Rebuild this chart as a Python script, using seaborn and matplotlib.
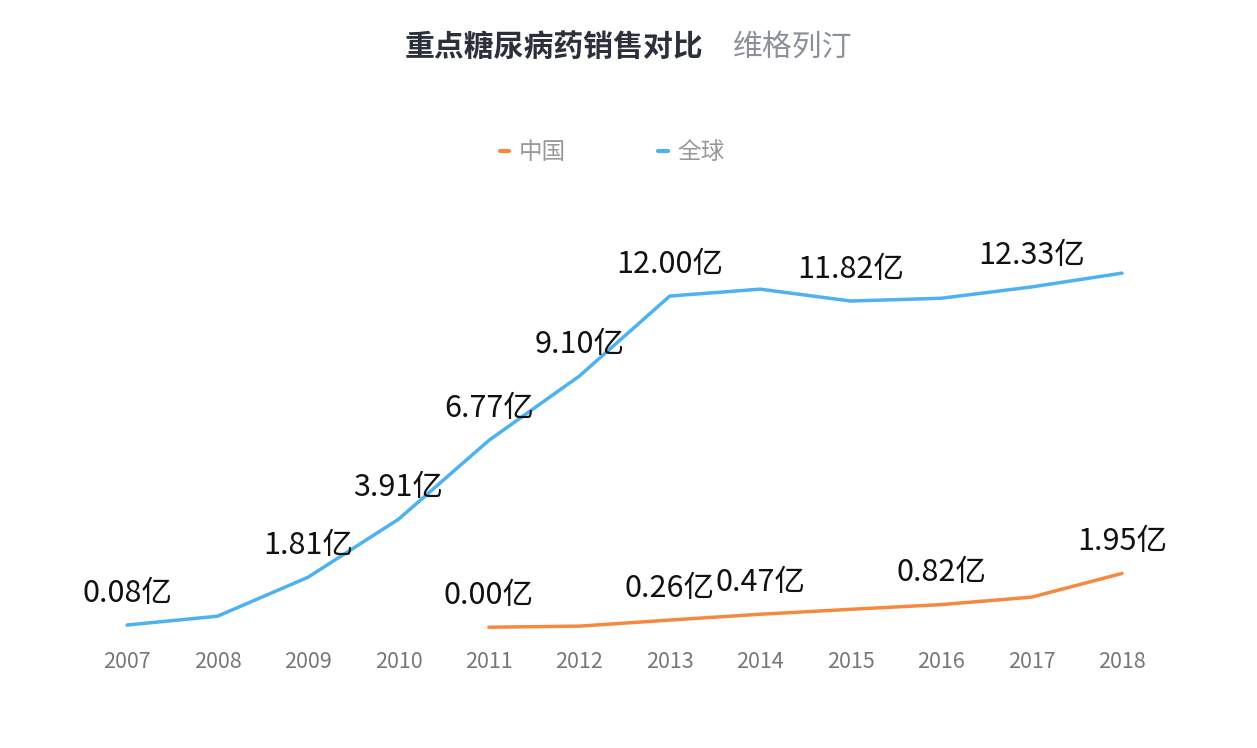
import pandas as pd
import numpy as np
import seaborn as sns
import matplotlib.pyplot as plt
from matplotlib.lines import Line2D

# data
years = [2007, 2008, 2009, 2010, 2011, 2012,
         2013, 2014, 2015, 2016, 2017, 2018]
china = [np.nan, np.nan, np.nan, np.nan, 0.00, 0.04,
         0.26, 0.47, 0.65, 0.82, 1.09, 1.95]
world = [0.08, 0.40, 1.81, 3.91, 6.77, 9.10,
         12.00, 12.25, 11.82, 11.92, 12.33, 12.83]
# which points carry a value label
china_labeled = [2011, 2013, 2014, 2016, 2018]
world_labeled = [2007, 2009, 2010, 2011, 2012, 2013, 2015, 2017]

series_names = ['中国', '全球']
colors = {'中国': '#F58A3F', '全球': '#4DB2EF'}

df = pd.DataFrame({'year': years * 2,
                   'value': china + world,
                   'series': ['中国'] * len(years) + ['全球'] * len(years)})
df = df.dropna()

sns.set_theme(style='white')
plt.rcParams['font.family'] = ['Noto Sans CJK SC', 'DejaVu Sans']

fig = plt.figure(figsize=(12.57, 7.48), dpi=100)
ax = fig.add_axes([0.0651, 0.143, 0.8635, 0.535])

sns.lineplot(data=df, x='year', y='value', hue='series', hue_order=series_names,
             palette=colors, linewidth=2.5, legend=False, ax=ax)

ax.set_xlim(2006.5, 2018.5)
ax.set_ylim(-0.5, 14)
ax.set_xticks(years)
ax.set_xticklabels([str(y) for y in years])
ax.set_xlabel('')
ax.set_ylabel('')
ax.set_yticks([])
sns.despine(ax=ax, left=True, bottom=True)
ax.tick_params(axis='x', length=0, pad=7, labelsize=15.5, labelcolor='#777777')

for name, vals, labeled in [('中国', china, china_labeled), ('全球', world, world_labeled)]:
    for yr, v in zip(years, vals):
        if yr in labeled:
            ax.annotate(f'{v:.2f}亿', (yr, v), xytext=(0, 23), textcoords='offset points',
                        ha='center', va='center', fontsize=22, fontweight='light',
                        color='#111111')

# legend
handles = [Line2D([0], [0], color=colors[n], linewidth=3) for n in series_names]
fig.legend(handles, series_names, loc='center', bbox_to_anchor=(0.487, 0.796),
           ncol=2, frameon=False, handlelength=0.4, handletextpad=0.4,
           columnspacing=3.9, prop={'size': 17}, labelcolor='#999999')

# title
fig.text(405 / 1257, 1 - 47 / 748, '重点糖尿病药销售对比', ha='left', va='center',
         fontsize=21.5, fontweight='bold', color='#2B303B')
fig.text(733 / 1257, 1 - 47 / 748, '维格列汀', ha='left', va='center',
         fontsize=21.5, color='#8C9099')

fig.savefig('out.png', dpi=100)
